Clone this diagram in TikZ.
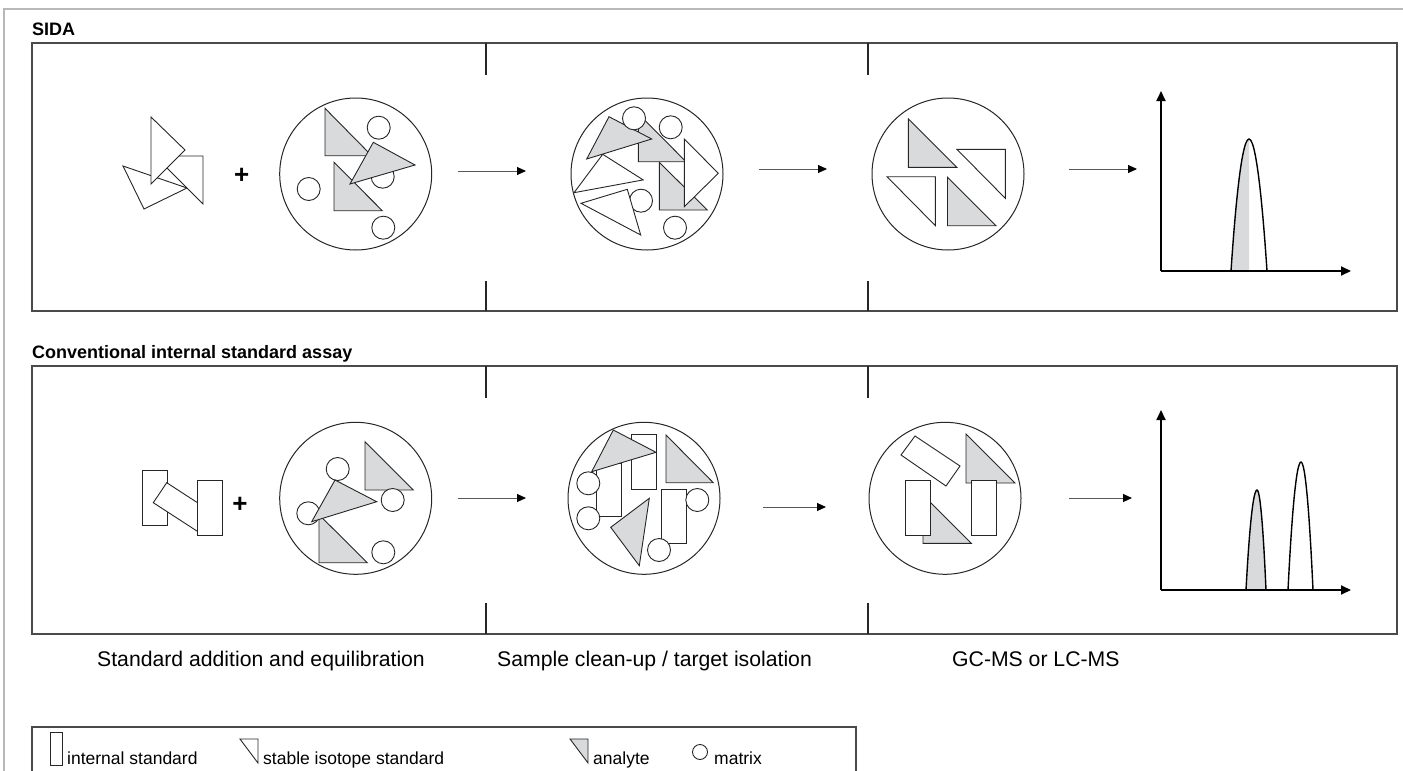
\documentclass[tikz,border=0pt]{standalone}
\usepackage{fontspec}
\setmainfont{Liberation Sans}
\usetikzlibrary{arrows.meta}
\definecolor{anagray}{HTML}{D9DADC}
\definecolor{framegray}{HTML}{B8B8B8}
\definecolor{boxline}{HTML}{4A4A4A}
\tikzset{
 panel/.style={draw=boxline, line width=1.6pt},
 tickline/.style={draw=black!85, line width=1.4pt},
 wtri/.style={draw=black!85, fill=white, line width=0.9pt, line join=miter},
 gtri/.style={draw=black!85, fill=anagray, line width=0.9pt, line join=miter},
 mcirc/.style={draw=black!85, fill=white, line width=0.9pt},
 bigcirc/.style={draw=black!85, line width=1pt},
 istd/.style={draw=black!85, fill=white, line width=0.9pt},
 flow/.style={draw=black!65, line width=0.9pt, -{Triangle[length=9pt,width=8pt,color=black]}},
 axisline/.style={draw=black, line width=1.8pt, -{Triangle[length=10pt,width=9pt]}},
 peak/.style={draw=black, line width=1.4pt},
 titletext/.style={font=\fontsize{18}{21}\selectfont\bfseries, anchor=base west, inner sep=0pt},
 steplabel/.style={font=\fontsize{21.2}{25}\selectfont, anchor=base west, inner sep=0pt},
 legtext/.style={font=\fontsize{17.5}{21}\selectfont, anchor=base west, inner sep=0pt},
 plussign/.style={font=\fontsize{26}{26}\selectfont\bfseries, inner sep=0pt},
}
\begin{document}
\begin{tikzpicture}[x=1pt,y=-1pt]
\useasboundingbox (0,0) rectangle (1403,771);
% outer frame
\draw[framegray, line width=2pt] (4,771) -- (4,9) -- (1403,9);

% ================= SIDA =================
\node[titletext] (tSIDA) at (32,35) {SIDA};
\draw[panel] (32,43) rectangle (1397,311);
\draw[tickline] (486,43) -- (486,75) (486,281) -- (486,311);
\draw[tickline] (868,43) -- (868,75) (868,281) -- (868,311);

% stable isotope standard cluster
\filldraw[wtri] (123,166) -- (187,188) -- (144,209) -- cycle;
\filldraw[wtri] (155,156) -- (203,156) -- (203,204) -- cycle;
\filldraw[wtri] (151,117) -- (185,150) -- (151,184) -- cycle;
\node[plussign] (plus1) at (241.7,176) {+};

% sample circle
\draw[bigcirc] (355.7,174) circle[radius=76pt];
\filldraw[mcirc] (378.7,127.7) circle[radius=11.5pt];
\filldraw[mcirc] (308.7,189) circle[radius=11.5pt];
\filldraw[mcirc] (382.7,176.7) circle[radius=11.5pt];
\filldraw[mcirc] (383.3,227.7) circle[radius=11.5pt];
\filldraw[gtri] (325,108.3) -- (325,155.7) -- (371.7,155.7) -- cycle;
\filldraw[gtri] (334,162.3) -- (334,210.7) -- (382.3,210.7) -- cycle;
\filldraw[gtri] (373.3,142.3) -- (415,165) -- (350,184) -- cycle;

\coordinate (sa1s) at (458,171);
\coordinate (sa1e) at (526,171);
\draw[flow] (sa1s) -- (sa1e);

% clean-up circle
\draw[bigcirc] (647,174) circle[radius=76pt];
\filldraw[mcirc] (641,200.7) circle[radius=11.5pt];
\filldraw[wtri] (602.7,154.3) -- (643.2,179.9) -- (574,192.7) -- cycle;
\filldraw[wtri] (581,203.3) -- (627.3,189.3) -- (640.7,235) -- cycle;
\filldraw[mcirc] (675,227.7) circle[radius=11.5pt];
\filldraw[gtri] (659.3,162.3) -- (659.3,210) -- (707.3,210) -- cycle;
\filldraw[gtri] (638.3,113.7) -- (638.3,161.7) -- (686,161.7) -- cycle;
\filldraw[wtri] (684.3,139) -- (718.3,173.3) -- (684.3,206.7) -- cycle;
\filldraw[gtri] (609,116.7) -- (651.7,139) -- (586.7,159) -- cycle;
\filldraw[mcirc] (634,118.3) circle[radius=11.5pt];
\filldraw[mcirc] (670.7,127.3) circle[radius=11.5pt];

\coordinate (sa2s) at (759,169);
\coordinate (sa2e) at (827,169);
\draw[flow] (sa2s) -- (sa2e);

% isolated circle
\draw[bigcirc] (948,174) circle[radius=76pt];
\filldraw[gtri] (908.4,119) -- (908.4,167.3) -- (956.9,167.3) -- cycle;
\filldraw[wtri] (956.9,149.3) -- (1005.3,149.3) -- (1005.3,198.3) -- cycle;
\filldraw[wtri] (887,176.7) -- (935.4,176.7) -- (935.4,225.7) -- cycle;
\filldraw[gtri] (947.5,177.3) -- (947.5,225.7) -- (996,225.7) -- cycle;

\coordinate (sa3s) at (1069,169);
\coordinate (sa3e) at (1137,169);
\draw[flow] (sa3s) -- (sa3e);

% chromatogram SIDA
\coordinate (so) at (1161,271);
\coordinate (sy) at (1161,91);
\coordinate (sx) at (1351,271);
\fill[anagray] (1231,271) parabola[bend at end] (1249,139) -- (1249,271) -- cycle;
\draw[peak] (1231,271) parabola bend (1249,139) (1267,271);
\draw[axisline] (so) -- (sy);
\draw[axisline] (so) -- (sx);

% ================= Conventional =================
\node[titletext] (tConv) at (32,358) {Conventional internal standard assay};
\draw[panel] (32,366) rectangle (1397,634);
\draw[tickline] (486,366) -- (486,398) (486,603) -- (486,634);
\draw[tickline] (868,366) -- (868,398) (868,603) -- (868,634);

% internal standard cluster
\filldraw[istd] (142.3,470.7) rectangle (167.3,525);
\filldraw[istd] (153.3,502.7) -- (166.7,482.7) -- (212,512.1) -- (198.6,532.1) -- cycle;
\filldraw[istd] (197,480.7) rectangle (222,535.3);
\node[plussign] (plus2) at (240,505) {+};

% sample circle
\draw[bigcirc] (355.7,498.3) circle[radius=76pt];
\filldraw[gtri] (365,441.7) -- (365,490) -- (413.3,490) -- cycle;
\filldraw[mcirc] (392.7,500) circle[radius=11.5pt];
\filldraw[mcirc] (337.7,469) circle[radius=11.5pt];
\filldraw[mcirc] (308.3,513.3) circle[radius=11.5pt];
\filldraw[mcirc] (383.3,552.3) circle[radius=11.5pt];
\filldraw[gtri] (319,514.7) -- (319,562.7) -- (367.3,562.7) -- cycle;
\filldraw[gtri] (335,480) -- (376.7,501.7) -- (311.7,521.7) -- cycle;

\coordinate (ca1s) at (458,498);
\coordinate (ca1e) at (526,498);
\draw[flow] (ca1s) -- (ca1e);

% clean-up circle
\draw[bigcirc] (644,498.3) circle[radius=76pt];
\filldraw[istd] (631.7,434.3) rectangle (656.7,489);
\filldraw[istd] (596.7,463.3) rectangle (621.7,516);
\filldraw[gtri] (613.3,430) -- (656,452.3) -- (591.7,471.7) -- cycle;
\filldraw[mcirc] (588.3,483.3) circle[radius=11.5pt];
\filldraw[mcirc] (588.3,518.3) circle[radius=11.5pt];
\filldraw[gtri] (666,435) -- (666,482.7) -- (713.3,482.7) -- cycle;
\filldraw[istd] (661.7,489) rectangle (686.7,543.3);
\filldraw[mcirc] (697.3,500) circle[radius=11.5pt];
\filldraw[mcirc] (659,550) circle[radius=11.5pt];
\filldraw[gtri] (610.7,527.3) -- (649.3,498.3) -- (639.3,565.7) -- cycle;

\coordinate (ca2s) at (763,507);
\coordinate (ca2e) at (826,507);
\draw[flow] (ca2s) -- (ca2e);

% isolated circle
\draw[bigcirc] (945,498.3) circle[radius=76pt];
\filldraw[istd] (901,455) -- (915,436) -- (960,466) -- (946,486) -- cycle;
\filldraw[gtri] (923,495) -- (923,543.3) -- (971.4,543.3) -- cycle;
\filldraw[istd] (905,480.7) rectangle (930.2,535.7);
\filldraw[gtri] (966,434) -- (966,483) -- (1015,483) -- cycle;
\filldraw[istd] (971.4,480.7) rectangle (996.7,535.7);

\coordinate (ca3s) at (1069,498);
\coordinate (ca3e) at (1132,498);
\draw[flow] (ca3s) -- (ca3e);

% chromatogram conventional
\coordinate (co) at (1161,590);
\coordinate (cy) at (1161,410);
\coordinate (cx) at (1351,590);
\filldraw[anagray] (1246,590) parabola bend (1257,490) (1266,590);
\draw[peak] (1246,590) parabola bend (1257,490) (1266,590);
\draw[peak] (1288,590) parabola bend (1301,462) (1313,590);
\draw[axisline] (co) -- (cy);
\draw[axisline] (co) -- (cx);

% ================= step labels =================
\node[steplabel] (l1) at (97,666) {Standard addition and equilibration};
\node[steplabel] (l2) at (497,666) {Sample clean-up / target isolation};
\node[steplabel] (l3) at (952,666) {GC-MS or LC-MS};

% ================= legend =================
\draw[boxline, line width=1.3pt] (32,772) -- (32,727) -- (856,727) -- (856,772);
\filldraw[istd] (50,732) rectangle (62,765);
\node[legtext] (lg1) at (67,764) {internal standard};
\filldraw[wtri] (240,739) -- (258,739) -- (258,763) -- cycle;
\node[legtext] (lg2) at (263,764) {stable isotope standard};
\filldraw[gtri] (570,739) -- (588,739) -- (588,763) -- cycle;
\node[legtext] (lg3) at (593,764) {analyte};
\draw[mcirc] (700,752) circle[radius=7.5pt];
\node[legtext] (lg4) at (714,764) {matrix};
\end{tikzpicture}
\end{document}
